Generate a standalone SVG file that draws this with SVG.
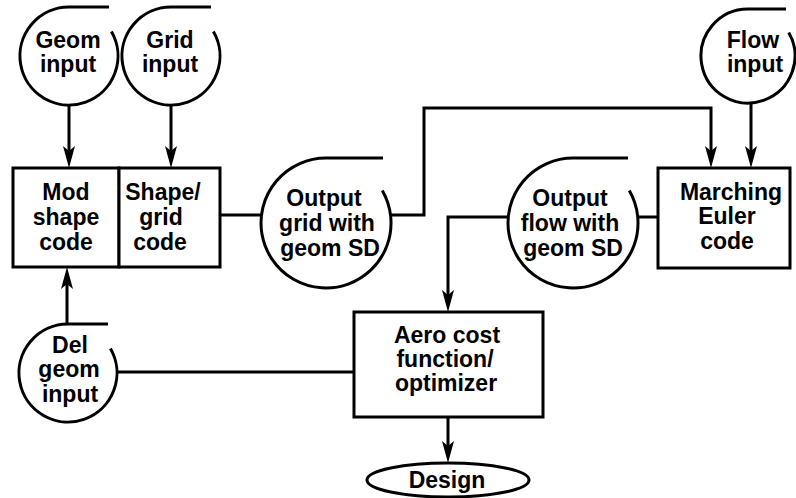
<svg xmlns="http://www.w3.org/2000/svg" width="796" height="498" viewBox="0 0 796 498">
<style>
.ln{fill:none;stroke:#000;stroke-width:3}
.bx{fill:#fff;stroke:#000;stroke-width:3}
.t{font-family:"Liberation Sans",Arial,Helvetica,sans-serif;font-weight:bold;font-size:23px;text-anchor:middle;fill:#000}
</style>
<defs>
<marker id="ah" markerUnits="userSpaceOnUse" viewBox="-15 -7 24 14" markerWidth="24" markerHeight="14" refX="0" refY="0" orient="auto">
<path d="M8,0 L-14,-6 L-9,0 L-14,6 Z" fill="#000"/>
</marker>
</defs>
<rect width="796" height="498" fill="#fff"/>
<g id="connectors">
<path class="ln" d="M69,105 V160" marker-end="url(#ah)"/>
<path class="ln" d="M171,105 V160" marker-end="url(#ah)"/>
<path class="ln" d="M220,215 H262"/>
<path class="ln" d="M390,215 H424 V108 H711 V160" marker-end="url(#ah)"/>
<path class="ln" d="M751,103 V160" marker-end="url(#ah)"/>
<path class="ln" d="M658,217 H637"/>
<path class="ln" d="M509,217 H448 V304" marker-end="url(#ah)"/>
<path class="ln" d="M448,417 V455" marker-end="url(#ah)"/>
<path class="ln" d="M117,372 H354"/>
<path class="ln" d="M67,324 V275" marker-end="url(#ah)"/>
</g>
<g id="geom-input">
<path class="ln" d="M111.4,31.5 A49,49 0 1 1 69,7 H109"/>
<text class="t" x="68" y="48">Geom</text>
<text class="t" x="68" y="72">input</text>
</g>
<g id="grid-input">
<path class="ln" d="M213.4,31.5 A49,49 0 1 1 171,7 H211"/>
<text class="t" x="170" y="48">Grid</text>
<text class="t" x="170" y="72">input</text>
</g>
<g id="mod-shape-code">
<rect class="bx" x="13" y="168" width="106" height="99"/>
<text class="t" x="66" y="200">Mod</text>
<text class="t" x="66" y="225">shape</text>
<text class="t" x="66" y="250">code</text>
</g>
<g id="shape-grid-code">
<rect class="bx" x="119" y="168" width="101" height="99"/>
<text class="t" x="163" y="200">Shape/</text>
<text class="t" x="161" y="225">grid</text>
<text class="t" x="160" y="250">code</text>
</g>
<g id="output-grid">
<path class="ln" d="M382.3,190.5 A65,65 0 1 1 326,158 H383"/>
<text class="t" x="324" y="206">Output</text>
<text class="t" x="327" y="231">grid with</text>
<text class="t" x="330" y="256">geom SD</text>
</g>
<g id="flow-input">
<path class="ln" d="M788.7,32.5 A47,47 0 1 1 748,9 H786"/>
<text class="t" x="753" y="48">Flow</text>
<text class="t" x="755" y="72">input</text>
</g>
<g id="marching-euler">
<rect class="bx" x="658" y="168" width="132" height="100"/>
<text class="t" x="731" y="200">Marching</text>
<text class="t" x="727" y="224">Euler</text>
<text class="t" x="727" y="249">code</text>
</g>
<g id="output-flow">
<path class="ln" d="M629.3,190.5 A65,65 0 1 1 573,158 H628"/>
<text class="t" x="570" y="206">Output</text>
<text class="t" x="570" y="231">flow with</text>
<text class="t" x="573" y="256">geom SD</text>
</g>
<g id="del-geom-input">
<path class="ln" d="M110.4,348.5 A49,49 0 1 1 68,324 H108"/>
<text class="t" x="70" y="353">Del</text>
<text class="t" x="69" y="377">geom</text>
<text class="t" x="70" y="402">input</text>
</g>
<g id="aero-cost">
<rect class="bx" x="354" y="312" width="189" height="105"/>
<text class="t" x="447" y="343">Aero cost</text>
<text class="t" x="445" y="367">function/</text>
<text class="t" x="446" y="391">optimizer</text>
</g>
<g id="design">
<ellipse class="bx" cx="448" cy="480" rx="81" ry="17"/>
<text class="t" x="447" y="488">Design</text>
</g>
</svg>
